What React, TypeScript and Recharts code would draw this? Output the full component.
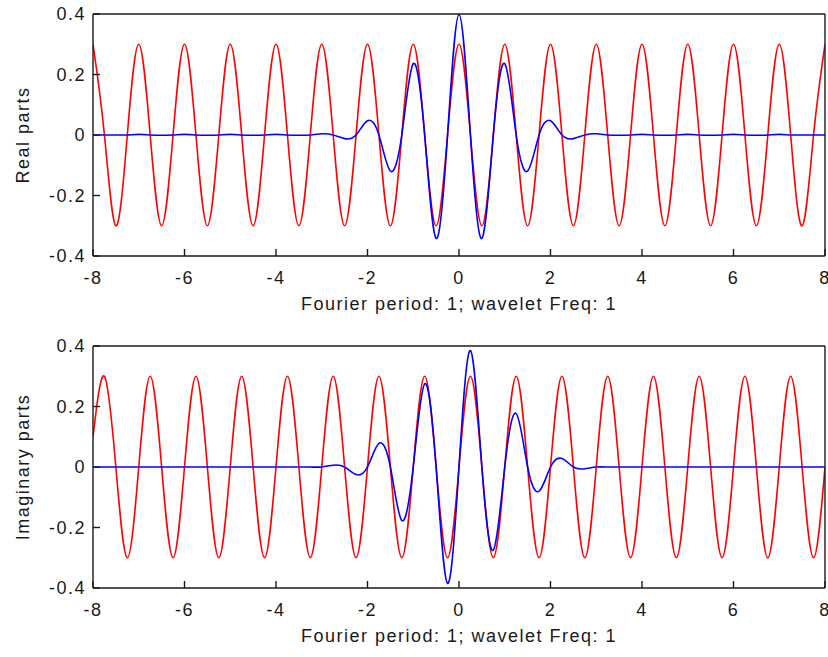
import { LineChart, Line, XAxis, YAxis } from 'recharts';

// x samples, every quarter of the Fourier period
const xs = [
  -8, -7.75, -7.5, -7.25,
  -7, -6.75, -6.5, -6.25,
  -6, -5.75, -5.5, -5.25,
  -5, -4.75, -4.5, -4.25,
  -4, -3.75, -3.5, -3.25,
  -3, -2.75, -2.5, -2.25,
  -2, -1.75, -1.5, -1.25,
  -1, -0.75, -0.5, -0.25,
  0, 0.25, 0.5, 0.75,
  1, 1.25, 1.5, 1.75,
  2, 2.25, 2.5, 2.75,
  3, 3.25, 3.5, 3.75,
  4, 4.25, 4.5, 4.75,
  5, 5.25, 5.5, 5.75,
  6, 6.25, 6.5, 6.75,
  7, 7.25, 7.5, 7.75,
  8,
];

const realRed = [
  0.3, 0, -0.3, 0, 0.3, 0, -0.3, 0, 0.3, 0, -0.3, 0, 0.3, 0, -0.3, 0,
  0.3, 0, -0.3, 0, 0.3, 0, -0.3, 0, 0.3, 0, -0.3, 0, 0.3, 0, -0.3, 0,
  0.3, 0, -0.3, 0, 0.3, 0, -0.3, 0, 0.3, 0, -0.3, 0, 0.3, 0, -0.3, 0,
  0.3, 0, -0.3, 0, 0.3, 0, -0.3, 0, 0.3, 0, -0.3, 0, 0.3, 0, -0.3, 0,
  0.3,
];

const realBlue = [
  0, 0, 0, 0,
  0.002, 0, -0.001, 0,
  0.002, 0, -0.001, 0,
  0.002, 0, -0.001, 0,
  0.002, 0, -0.001, 0,
  0.004, 0, -0.012, 0,
  0.047, 0, -0.119, 0,
  0.236, 0, -0.342, 0,
  0.398, 0, -0.342, 0,
  0.236, 0, -0.119, 0,
  0.047, 0, -0.012, 0,
  0.004, 0, -0.001, 0,
  0.002, 0, -0.001, 0,
  0.002, 0, -0.001, 0,
  0.002, 0, -0.001, 0,
  0.002, 0, 0, 0,
  0,
];

const imagRed = [
  0.1, 0.3, 0, -0.3, 0, 0.3, 0, -0.3, 0, 0.3, 0, -0.3, 0, 0.3, 0, -0.3,
  0, 0.3, 0, -0.3, 0, 0.3, 0, -0.3, 0, 0.3, 0, -0.3, 0, 0.3, 0, -0.3,
  0, 0.3, 0, -0.3, 0, 0.3, 0, -0.3, 0, 0.3, 0, -0.3, 0, 0.3, 0, -0.3,
  0, 0.3, 0, -0.3, 0, 0.3, 0, -0.3, 0, 0.3, 0, -0.3, 0, 0.3, 0, -0.3,
  0,
];

const imagBlue = [
  0, 0, 0, 0,
  0, 0, 0, 0,
  0, 0, 0, 0,
  0, 0, 0, 0,
  0, 0, 0, 0,
  0, 0.006, 0, -0.025,
  0, 0.078, 0, -0.177,
  0, 0.275, 0, -0.385,
  0, 0.385, 0, -0.275,
  0, 0.177, 0, -0.08,
  0, 0.028, 0, -0.006,
  0, 0, 0, 0,
  0, 0, 0, 0,
  0, 0, 0, 0,
  0, 0, 0, 0,
  0, 0, 0, 0,
  0,
];

const xTicks = [-8, -6, -4, -2, 0, 2, 4, 6, 8];
const yTicks = [-0.4, -0.2, 0, 0.2, 0.4];
const xLabel = 'Fourier period: 1; wavelet Freq: 1';

const ink = '#1a1a1a';
const textStyle = { fontSize: 18, fill: ink };
const lineStyle = { stroke: ink, strokeWidth: 1.4 };

const realData = xs.map((x, i) => ({ x, red: realRed[i], blue: realBlue[i] }));
const imagData = xs.map((x, i) => ({ x, red: imagRed[i], blue: imagBlue[i] }));

type PanelProps = {
  data: { x: number; red: number; blue: number }[];
  ylabel: string;
  top: number;
  height: number;
};

function Panel({ data, ylabel, top, height }: PanelProps) {
  return (
    <div style={{ position: 'absolute', left: 0, top }}>
      <LineChart
        width={828}
        height={height}
        data={data}
        margin={{ top: 13, right: 2, bottom: height - 286, left: 0 }}
      >
        <XAxis
          xAxisId="b"
          dataKey="x"
          type="number"
          domain={[-8, 8]}
          ticks={xTicks}
          interval={0}
          allowDataOverflow
          height={30}
          tickSize={-7}
          tickMargin={22}
          axisLine={lineStyle}
          tickLine={lineStyle}
          tick={textStyle}
          label={{ value: xLabel, position: 'bottom', offset: 11, style: textStyle }}
        />
        <XAxis
          xAxisId="t"
          orientation="top"
          dataKey="x"
          type="number"
          domain={[-8, 8]}
          ticks={xTicks}
          interval={0}
          allowDataOverflow
          height={1}
          tickSize={-7}
          axisLine={lineStyle}
          tickLine={lineStyle}
          tick={false}
        />
        <YAxis
          yAxisId="l"
          type="number"
          domain={[-0.4, 0.4]}
          ticks={yTicks}
          interval={0}
          allowDataOverflow
          width={93}
          tickSize={-7}
          tickMargin={14}
          axisLine={lineStyle}
          tickLine={lineStyle}
          tick={textStyle}
          tickFormatter={(v: number) => String(v)}
          label={{
            value: ylabel,
            angle: -90,
            position: 'insideLeft',
            offset: 23,
            style: { ...textStyle, textAnchor: 'middle' },
          }}
        />
        <YAxis
          yAxisId="r"
          orientation="right"
          type="number"
          domain={[-0.4, 0.4]}
          ticks={yTicks}
          interval={0}
          allowDataOverflow
          width={1}
          tickSize={-7}
          axisLine={lineStyle}
          tickLine={lineStyle}
          tick={false}
        />
        <Line
          xAxisId="b"
          yAxisId="l"
          type="natural"
          dataKey="red"
          stroke="#ff0000"
          strokeWidth={1.6}
          dot={false}
          activeDot={false}
          isAnimationActive={false}
        />
        <Line
          xAxisId="b"
          yAxisId="l"
          type="natural"
          dataKey="blue"
          stroke="#0000ff"
          strokeWidth={1.6}
          dot={false}
          activeDot={false}
          isAnimationActive={false}
        />
      </LineChart>
    </div>
  );
}

export default function App() {
  return (
    <div
      style={{
        position: 'absolute',
        left: 0,
        top: 0,
        width: 828,
        height: 657,
        background: '#fff',
        overflow: 'hidden',
        fontFamily: '"Liberation Sans", Arial, sans-serif',
        letterSpacing: 1.5,
      }}
    >
      <Panel data={realData} ylabel="Real parts" top={0} height={330} />
      <Panel data={imagData} ylabel="Imaginary parts" top={332} height={325} />
    </div>
  );
}
